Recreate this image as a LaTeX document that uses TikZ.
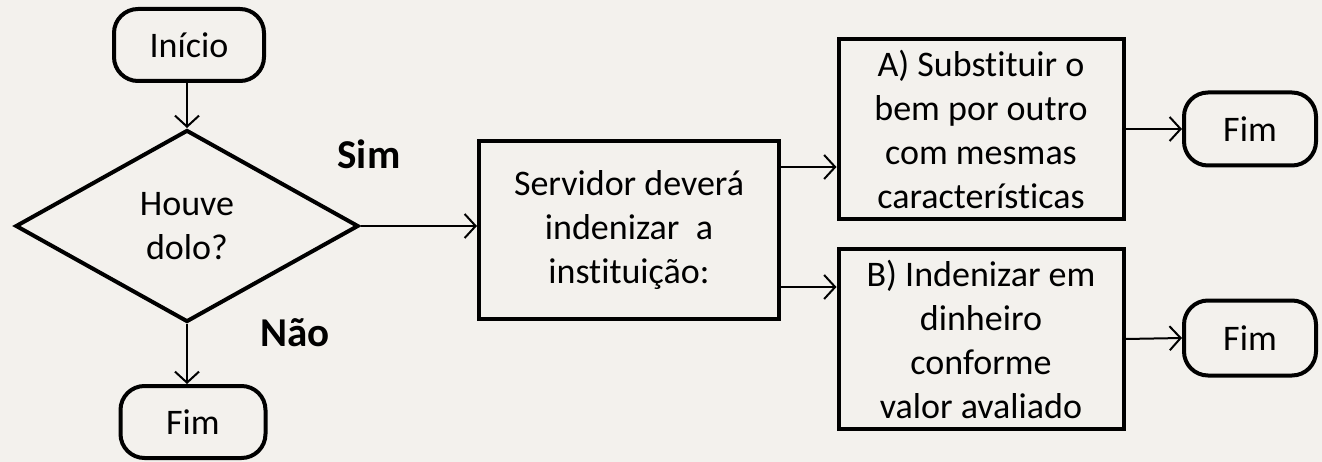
\documentclass[tikz,border=0pt]{standalone}
\usepackage{fontspec}
\setmainfont{Carlito}[Ligatures=NoCommon]
\usetikzlibrary{shapes.geometric,arrows.meta}
\definecolor{paper}{RGB}{243,241,237}
\begin{document}
\begin{tikzpicture}[x=1pt,y=-1pt,
  every node/.style={font=\fontsize{36}{44}\selectfont, align=center, inner sep=0pt},
  term/.style={draw, line width=4pt, rounded corners=24pt, minimum height=72pt},
  procbox/.style={draw, line width=4pt},
  decis/.style={draw, diamond, line width=4pt, minimum width=343pt, minimum height=192pt},
  arr/.style={line width=2pt, -{Straight Barb[length=11pt,width=24pt,line width=2pt]}},
  lbl/.style={font=\fontsize{41}{48}\selectfont\bfseries}]
\fill[paper] (0,0) rectangle (1322,462);
\useasboundingbox (0,0) rectangle (1322,462);
\node[term, minimum width=150pt] (ini) at (189,45) {Início};
\node[decis] (dec) at (187,226) {Houve\\dolo?};
\node[term, minimum width=145pt] (fim1) at (193,422) {Fim};
\node[procbox, minimum width=300pt, minimum height=178pt] (serv) at (629,230) {Servidor deverá\\indenizar\ \ a\\instituição:};
\node[procbox, minimum width=285pt, minimum height=180pt] (A) at (981,129) {A) Substituir o\\bem por outro\\com mesmas\\características};
\node[procbox, minimum width=285pt, minimum height=180pt] (B) at (981,339) {B) Indenizar em\\dinheiro\\conforme\\valor avaliado};
\node[term, minimum width=132pt, minimum height=73pt] (fimA) at (1250,129) {Fim};
\node[term, minimum width=132pt, minimum height=75pt] (fimB) at (1250,338) {Fim};
\node[lbl] (sim) at (369,154) {Sim};
\node[lbl] (nao) at (295,333) {Não};
\draw[arr] (ini.south -| dec.north) -- (dec.north);
\draw[arr] (dec.south) -- (dec.south |- fim1.north);
\draw[arr] (dec.east) -- (dec.east -| serv.west);
\draw[arr] ([yshift=-57pt]serv.east) -- ([yshift=-57pt]serv.east -| A.west);
\draw[arr] ([yshift=63pt]serv.east) -- ([yshift=63pt]serv.east -| B.west);
\draw[arr] (A.east) -- (fimA.west);
\draw[arr] (B.east) -- (fimB.west);
\end{tikzpicture}
\end{document}
